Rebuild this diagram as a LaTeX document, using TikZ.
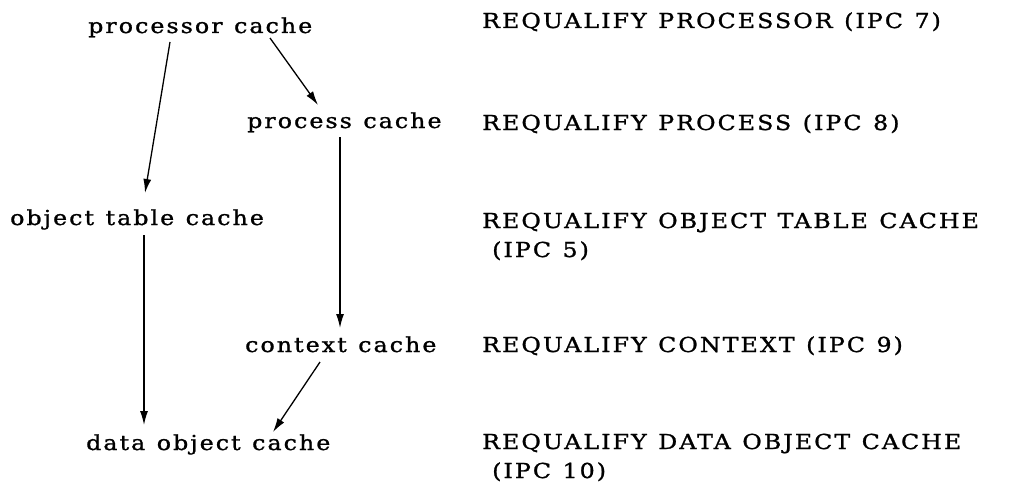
\documentclass[tikz,border=0pt]{standalone}
\usepackage{fontspec}
\setmainfont{DejaVu Serif}[FakeStretch=1.15, LetterSpace=10, FakeBold=1.2, WordSpace=1.2]
\usetikzlibrary{arrows.meta,calc}
\begin{document}
\begin{tikzpicture}[x=1pt,y=-1pt,
  lbl/.style={anchor=base west, inner sep=0pt, font=\fontsize{20.6}{29}\selectfont},
  arr/.style={line width=1.3pt, -{Latex[length=14pt,width=8pt]}}]
\useasboundingbox (0,0) rectangle (1014,487);

% cache hierarchy
\node[lbl] (pc)  at (88,33)   {processor cache};
\node[lbl] (prc) at (247,128) {process cache};
\node[lbl] (otc) at (10,225)  {object table cache};
\node[lbl] (cc)  at (245,352) {context cache};
\node[lbl] (doc) at (86,450)  {data object cache};

% requalify operations
\node[lbl] (r1)  at (482,28)  {REQUALIFY PROCESSOR (IPC 7)};
\node[lbl] (r2)  at (482,130) {REQUALIFY PROCESS (IPC 8)};
\node[lbl] (r3)  at (482,228) {REQUALIFY OBJECT TABLE CACHE};
\node[lbl] (r3b) at (492,257) {(IPC 5)};
\node[lbl] (r4)  at (482,352) {REQUALIFY CONTEXT (IPC 9)};
\node[lbl] (r5)  at (482,449) {REQUALIFY DATA OBJECT CACHE};
\node[lbl] (r5b) at (492,478) {(IPC 10)};

% invalidation paths
\draw[arr] ($(pc.base west)+(82,9)$)   -- ($(otc.base west)+(135,-32)$);
\draw[arr] ($(pc.base west)+(182,5)$)  -- ($(prc.base west)+(71,-23)$);
\draw[arr] ($(prc.base west)+(93,9)$)  -- ($(cc.base west)+(95,-24)$);
\draw[arr] ($(otc.base west)+(134,10)$) -- ($(doc.base west)+(58,-25)$);
\draw[arr] ($(cc.base west)+(75,10)$)  -- ($(doc.base west)+(187,-18)$);
\end{tikzpicture}
\end{document}
